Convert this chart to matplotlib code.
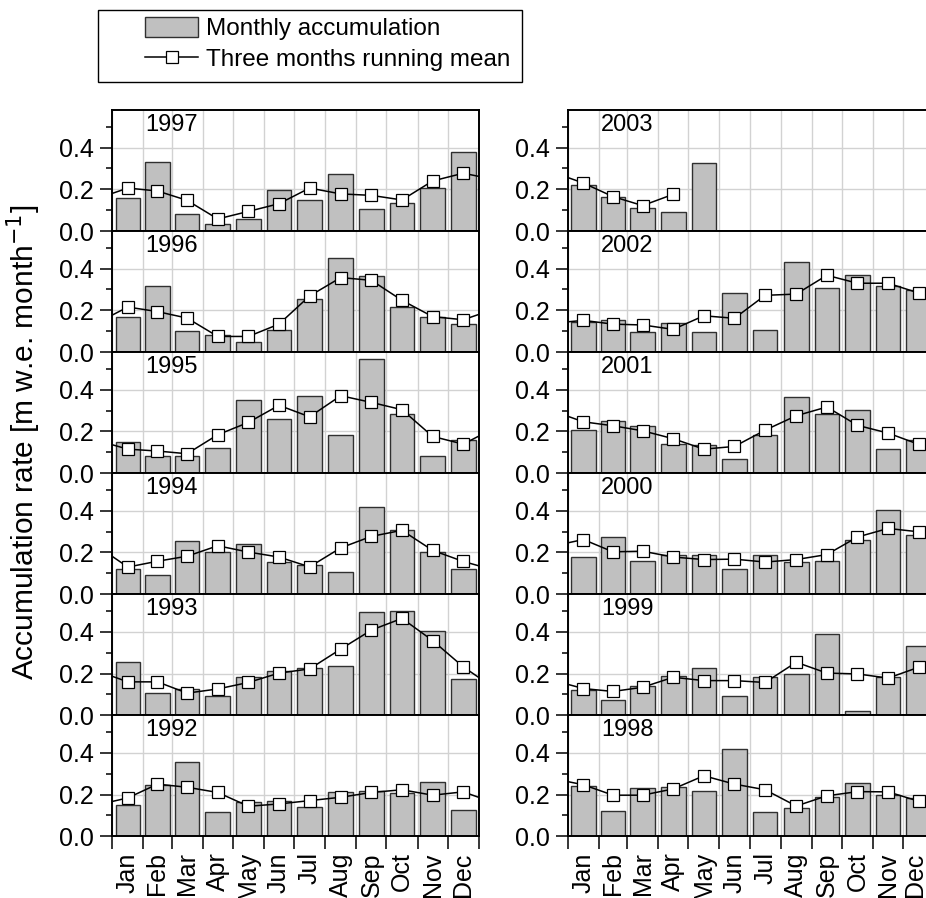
import matplotlib
matplotlib.use("Agg")
import matplotlib.pyplot as plt
import matplotlib.transforms as mtransforms
import numpy as np
from matplotlib.ticker import MultipleLocator, FixedLocator, NullFormatter, FixedFormatter
from matplotlib.patches import Rectangle, Patch
from matplotlib.lines import Line2D

plt.rcParams['font.family'] = ['Liberation Sans', 'DejaVu Sans']

months = ['Jan', 'Feb', 'Mar', 'Apr', 'May', 'Jun', 'Jul', 'Aug', 'Sep', 'Oct', 'Nov', 'Dec']
month_days = [31, 28, 31, 30, 31, 30, 31, 31, 30, 31, 30, 31]

# Monthly accumulation (m w.e. per month)
acc_1992 = [0.148, 0.245, 0.358, 0.116, 0.163, 0.168, 0.142, 0.211, 0.216, 0.208, 0.258, 0.126]
acc_1993 = [0.253, 0.106, 0.125, 0.091, 0.184, 0.211, 0.227, 0.237, 0.493, 0.499, 0.403, 0.173]
acc_1994 = [0.123, 0.094, 0.253, 0.202, 0.242, 0.154, 0.139, 0.106, 0.418, 0.306, 0.202, 0.122]
acc_1995 = [0.150, 0.080, 0.082, 0.122, 0.349, 0.259, 0.371, 0.182, 0.549, 0.282, 0.080, 0.157]
acc_1996 = [0.168, 0.315, 0.099, 0.080, 0.048, 0.104, 0.253, 0.453, 0.366, 0.214, 0.168, 0.134]
acc_1997 = [0.157, 0.331, 0.080, 0.035, 0.056, 0.197, 0.149, 0.274, 0.104, 0.133, 0.208, 0.378]
acc_1998 = [0.239, 0.123, 0.231, 0.235, 0.216, 0.418, 0.116, 0.135, 0.190, 0.255, 0.197, 0.184]
acc_1999 = [0.122, 0.072, 0.141, 0.187, 0.224, 0.091, 0.181, 0.198, 0.389, 0.019, 0.184, 0.331]
acc_2000 = [0.178, 0.274, 0.158, 0.186, 0.190, 0.123, 0.190, 0.152, 0.157, 0.261, 0.402, 0.286]
acc_2001 = [0.208, 0.248, 0.227, 0.139, 0.136, 0.067, 0.182, 0.365, 0.283, 0.304, 0.114, 0.157]
acc_2002 = [0.144, 0.154, 0.096, 0.139, 0.096, 0.283, 0.106, 0.432, 0.309, 0.370, 0.317, 0.299]
acc_2003 = [0.222, 0.162, 0.110, 0.091, 0.325]

# Three months running mean
mean_1991_dec = 0.150
mean_1992 = [0.184, 0.250, 0.235, 0.210, 0.144, 0.155, 0.171, 0.187, 0.210, 0.223, 0.197, 0.213]
mean_1993 = [0.160, 0.160, 0.106, 0.126, 0.157, 0.202, 0.222, 0.317, 0.408, 0.464, 0.358, 0.232]
mean_1994 = [0.130, 0.158, 0.182, 0.232, 0.202, 0.178, 0.131, 0.222, 0.277, 0.306, 0.210, 0.157]
mean_1995 = [0.115, 0.106, 0.093, 0.184, 0.243, 0.325, 0.270, 0.371, 0.339, 0.304, 0.176, 0.139]
mean_1996 = [0.216, 0.194, 0.163, 0.075, 0.075, 0.134, 0.269, 0.357, 0.344, 0.248, 0.170, 0.155]
mean_1997 = [0.206, 0.192, 0.147, 0.058, 0.094, 0.131, 0.206, 0.178, 0.171, 0.149, 0.240, 0.277]
mean_1998 = [0.247, 0.197, 0.197, 0.227, 0.290, 0.250, 0.223, 0.145, 0.194, 0.214, 0.213, 0.168]
mean_1999 = [0.128, 0.114, 0.134, 0.182, 0.166, 0.166, 0.157, 0.254, 0.202, 0.198, 0.178, 0.230]
mean_2000 = [0.262, 0.203, 0.206, 0.178, 0.166, 0.168, 0.154, 0.166, 0.190, 0.274, 0.315, 0.299]
mean_2001 = [0.246, 0.227, 0.203, 0.165, 0.115, 0.128, 0.206, 0.275, 0.317, 0.229, 0.192, 0.138]
mean_2002 = [0.152, 0.134, 0.130, 0.109, 0.174, 0.162, 0.272, 0.278, 0.368, 0.330, 0.330, 0.283]
mean_2003 = [0.230, 0.165, 0.122, 0.176]

acc = {1992: acc_1992, 1993: acc_1993, 1994: acc_1994, 1995: acc_1995, 1996: acc_1996,
       1997: acc_1997, 1998: acc_1998, 1999: acc_1999, 2000: acc_2000, 2001: acc_2001,
       2002: acc_2002, 2003: acc_2003}
rmean = {1992: mean_1992, 1993: mean_1993, 1994: mean_1994, 1995: mean_1995, 1996: mean_1996,
         1997: mean_1997, 1998: mean_1998, 1999: mean_1999, 2000: mean_2000, 2001: mean_2001,
         2002: mean_2002, 2003: mean_2003}

bounds = np.concatenate([[0], np.cumsum(month_days)])
centers = (bounds[:-1] + bounds[1:]) / 2.0

W, H = 926, 898
fig = plt.figure(figsize=(W / 100, H / 100), dpi=100)

ax_w = 366.5
ax_h = 121.05
top0 = 110.0
col_left = {0: 112.3, 1: 567.8}
left_years = [1997, 1996, 1995, 1994, 1993, 1992]
right_years = [2003, 2002, 2001, 2000, 1999, 1998]

bar_color = '#c0c0c0'
edge_color = '#303030'
grid_color = '#d2d2d2'
tick_fs = 18

bottom_axes = []
for col, ylist in enumerate([left_years, right_years]):
    for row, yr in enumerate(ylist):
        top = top0 + row * ax_h
        ax = fig.add_axes([col_left[col] / W, 1 - (top + ax_h) / H, ax_w / W, ax_h / H])
        a = acc[yr]
        ax.bar(centers[:len(a)], a, width=24.5, color=bar_color, edgecolor=edge_color,
               linewidth=1.0, zorder=2)
        m = rmean[yr]
        xs = list(centers[:len(m)])
        ys = list(m)
        # neighbouring months keep the running-mean line continuous across panels
        if yr - 1 in rmean:
            xs = [-15.5] + xs
            ys = [rmean[yr - 1][-1]] + ys
        elif yr == 1992:
            xs = [-15.5] + xs
            ys = [mean_1991_dec] + ys
        if yr + 1 in rmean and len(m) == 12:
            xs = xs + [365 + 15.5]
            ys = ys + [rmean[yr + 1][0]]
        ax.plot(xs, ys, '-', color='black', lw=1.1, marker='s', markersize=8.5,
                markerfacecolor='white', markeredgecolor='black', markeredgewidth=0.9,
                zorder=3)
        ax.set_xlim(0, 365)
        ax.set_ylim(0, 0.58)
        ax.yaxis.set_major_locator(MultipleLocator(0.2))
        ax.yaxis.set_minor_locator(MultipleLocator(0.1))
        ax.set_yticks([0.0, 0.2, 0.4])
        ax.set_yticklabels(['0.0', '0.2', '0.4'], fontsize=tick_fs)
        ax.tick_params(axis='y', which='major', direction='out', length=8.5, width=1.1, pad=4.5)
        ax.tick_params(axis='y', which='minor', direction='out', length=4.3, width=1.1)
        ax.xaxis.set_major_locator(FixedLocator(bounds))
        ax.xaxis.set_major_formatter(NullFormatter())
        if row == len(ylist) - 1:
            ax.xaxis.set_minor_locator(FixedLocator(centers))
            ax.xaxis.set_minor_formatter(FixedFormatter(months))
            ax.tick_params(axis='x', which='major', direction='out', length=9, width=1.1)
            ax.tick_params(axis='x', which='minor', length=0, pad=11.5,
                           labelsize=tick_fs, labelrotation=90)
            bottom_axes.append(ax)
        else:
            ax.tick_params(axis='x', which='both', length=0)
        ax.grid(True, which='major', color=grid_color, lw=1.0, zorder=0)
        ax.set_axisbelow(True)
        for s in ax.spines.values():
            s.set_linewidth(1.4)
            s.set_zorder(5)
        ax.text(0.09, 0.965, str(yr), transform=ax.transAxes, fontsize=17,
                ha='left', va='top', zorder=6)

# keep the last month label of the right column inside the picture
fig.canvas.draw()
rlabels = bottom_axes[1].xaxis.get_minorticklabels()
if rlabels:
    lab = rlabels[-1]
    lab.set_transform(lab.get_transform() +
                      mtransforms.ScaledTranslation(-4 / 100, 0, fig.dpi_scale_trans))

fig.text(24 / W, 1 - 442 / H, 'Accumulation rate [m w.e. month$^{-1}$]',
         rotation=90, ha='center', va='center', fontsize=21.5)

# legend frame and entries
fig.patches.append(Rectangle((98 / W, 1 - 82 / H), (522 - 98) / W, 72 / H,
                             transform=fig.transFigure, fill=False, ec='black', lw=1.0))
handles = [Patch(facecolor=bar_color, edgecolor=edge_color, linewidth=1.0),
           Line2D([0], [0], color='black', lw=1.1, marker='s', markersize=8.5,
                  markerfacecolor='white', markeredgecolor='black', markeredgewidth=0.9)]
fig.legend(handles, ['Monthly accumulation', 'Three months running mean'],
           loc='upper left', bbox_to_anchor=(145 / W, 1 - 17 / H), frameon=False,
           borderpad=0, borderaxespad=0, handlelength=2.2, handleheight=0.88,
           handletextpad=0.29, labelspacing=0.3, fontsize=17.5)

fig.savefig('out.png', dpi=100)
